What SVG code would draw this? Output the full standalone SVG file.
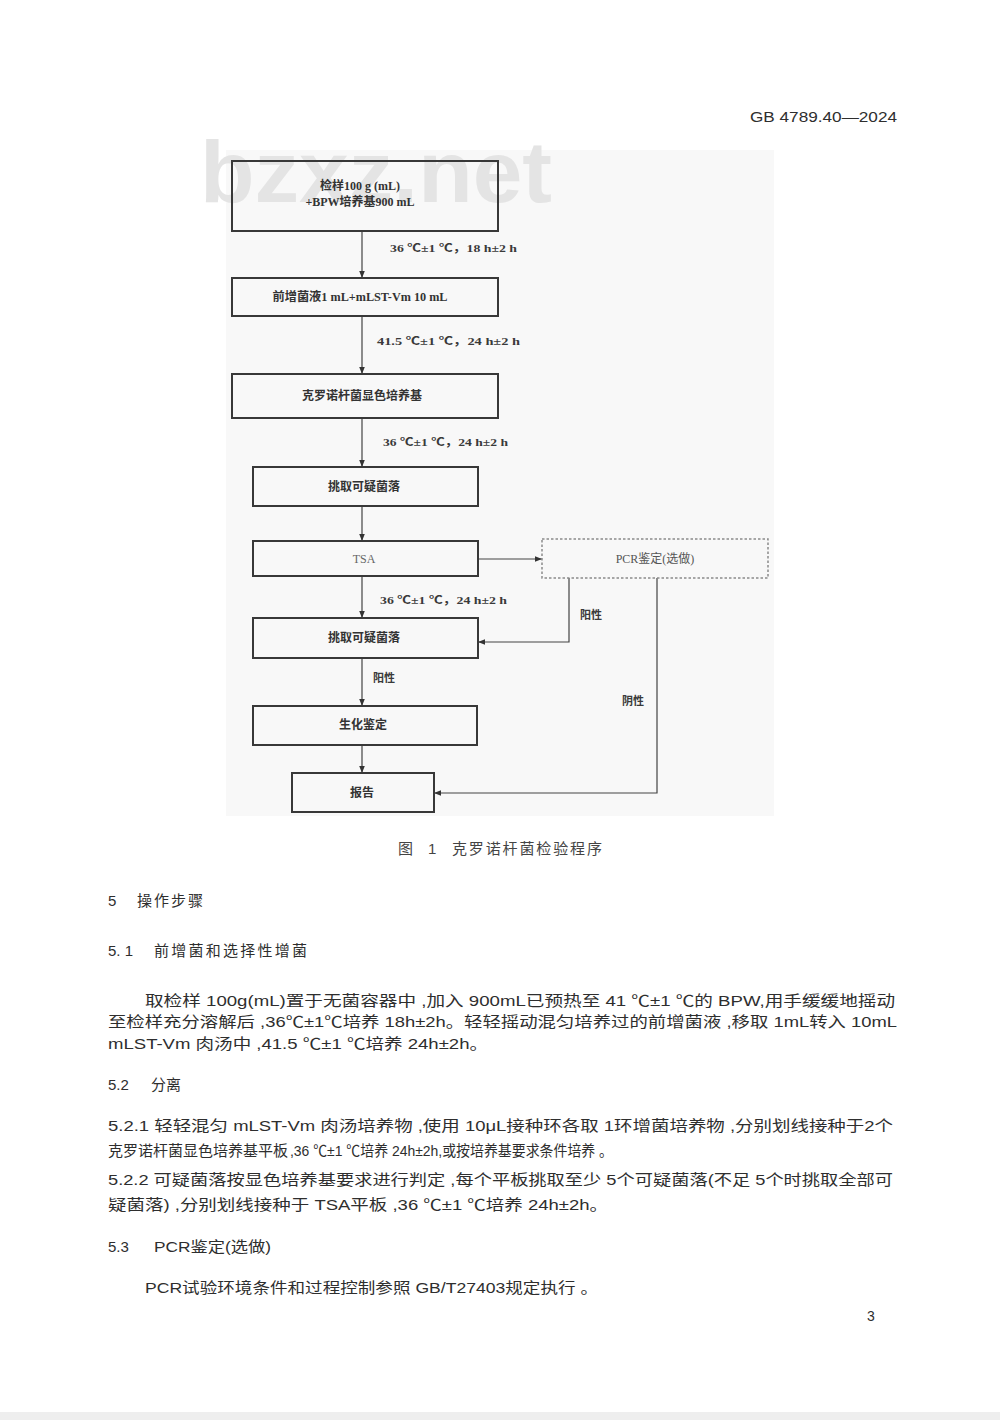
<svg xmlns="http://www.w3.org/2000/svg" width="1000" height="1420" viewBox="0 0 1000 1420">
<defs>
<marker id="arr" viewBox="0 0 10 10" refX="10" refY="5" markerWidth="7" markerHeight="7" markerUnits="userSpaceOnUse" orient="auto">
<path d="M0,1 L10,5 L0,9 z" fill="#333"/>
</marker>
<style>
.box{fill:none;stroke:#383838;stroke-width:2}
.dash{fill:none;stroke:#8a8a8a;stroke-width:1.5;stroke-dasharray:2.5 2}
.bt{font-family:"Liberation Serif","Noto Sans CJK SC",serif;font-size:12px;font-weight:bold;fill:#333;text-anchor:middle}
.bn{font-family:"Liberation Serif","Noto Sans CJK SC",serif;font-size:12px;font-weight:normal;fill:#666;text-anchor:middle}
.lt{font-family:"Liberation Serif","Noto Sans CJK SC",serif;font-size:11px;font-weight:bold;fill:#3a3a3a}
.ln{fill:none;stroke:#444;stroke-width:1.2}
.body{font-family:"Liberation Sans","Noto Sans CJK SC",sans-serif;font-size:15px;fill:#2e2e2e}
</style>
</defs>
<rect x="0" y="0" width="1000" height="1420" fill="#ffffff"/>
<rect x="0" y="1412" width="1000" height="8" fill="#eeeeee"/>
<text class="body" x="897" y="122" text-anchor="end" textLength="147" lengthAdjust="spacingAndGlyphs">GB  4789.40—2024</text>

<rect x="226" y="150" width="548" height="666" fill="#f8f8f8"/>
<text x="200" y="202" font-family="Liberation Sans, Arial, sans-serif" font-weight="bold" font-size="88" fill="#e4e4e4" textLength="352" lengthAdjust="spacingAndGlyphs">bzxz.net</text>

<g id="connectors">
<line class="ln" x1="362" y1="231" x2="362" y2="278" marker-end="url(#arr)"/>
<line class="ln" x1="362" y1="316" x2="362" y2="374" marker-end="url(#arr)"/>
<line class="ln" x1="362" y1="418" x2="362" y2="467" marker-end="url(#arr)"/>
<line class="ln" x1="362" y1="506" x2="362" y2="541" marker-end="url(#arr)"/>
<line class="ln" x1="362" y1="576" x2="362" y2="618" marker-end="url(#arr)"/>
<line class="ln" x1="362" y1="658" x2="362" y2="706" marker-end="url(#arr)"/>
<line class="ln" x1="362" y1="745" x2="362" y2="773" marker-end="url(#arr)"/>
<line class="ln" x1="478" y1="559" x2="542" y2="559" marker-end="url(#arr)"/>
<polyline class="ln" points="569,578 569,642 478,642" marker-end="url(#arr)"/>
<polyline class="ln" points="657,578 657,793 434,793" marker-end="url(#arr)"/>
<text class="lt" x="390" y="252" textLength="127" lengthAdjust="spacingAndGlyphs">36 ℃±1 ℃，18 h±2 h</text>
<text class="lt" x="377" y="345" textLength="143" lengthAdjust="spacingAndGlyphs">41.5 ℃±1 ℃，24 h±2 h</text>
<text class="lt" x="383" y="446" textLength="125" lengthAdjust="spacingAndGlyphs">36 ℃±1 ℃，24 h±2 h</text>
<text class="lt" x="380" y="604" textLength="127" lengthAdjust="spacingAndGlyphs">36 ℃±1 ℃，24 h±2 h</text>
<text class="lt" x="580" y="619">阳性</text>
<text class="lt" x="373" y="682">阳性</text>
<text class="lt" x="622" y="705">阴性</text>
</g>

<g id="n1"><rect class="box" x="232" y="161" width="266" height="70"/>
<text class="bt" x="360" y="190">检样100 g (mL)</text>
<text class="bt" x="360" y="206">+BPW培养基900 mL</text></g>
<g id="n2"><rect class="box" x="232" y="278" width="266" height="38"/>
<text class="bt" x="360" y="301" textLength="175" lengthAdjust="spacingAndGlyphs">前增菌液1 mL+mLST-Vm 10 mL</text></g>
<g id="n3"><rect class="box" x="232" y="374" width="266" height="44"/>
<text class="bt" x="362" y="400">克罗诺杆菌显色培养基</text></g>
<g id="n4"><rect class="box" x="253" y="467" width="225" height="39"/>
<text class="bt" x="364" y="491">挑取可疑菌落</text></g>
<g id="n5"><rect class="box" x="253" y="541" width="225" height="35"/>
<text class="bn" x="364" y="563">TSA</text></g>
<g id="n6"><rect class="dash" x="542" y="539" width="226" height="39"/>
<text class="bn" x="655" y="563" style="fill:#555">PCR鉴定(选做)</text></g>
<g id="n7"><rect class="box" x="253" y="618" width="225" height="40"/>
<text class="bt" x="364" y="642">挑取可疑菌落</text></g>
<g id="n8"><rect class="box" x="253" y="706" width="224" height="39"/>
<text class="bt" x="363" y="729">生化鉴定</text></g>
<g id="n9"><rect class="box" x="292" y="773" width="142" height="39"/>
<text class="bt" x="362" y="797">报告</text></g>

<text class="body" x="398" y="854" style="fill:#444">图</text>
<text class="body" x="428" y="854" style="fill:#444">1</text>
<text class="body" x="452" y="854" textLength="150" lengthAdjust="spacing" style="fill:#444">克罗诺杆菌检验程序</text>

<text class="body" x="108" y="906">5</text>
<text class="body" x="137" y="906" textLength="66" lengthAdjust="spacing">操作步骤</text>
<text class="body" x="108" y="956">5. 1</text>
<text class="body" x="154" y="956" textLength="153" lengthAdjust="spacing">前增菌和选择性增菌</text>
<text class="body" x="145" y="1006" textLength="750" lengthAdjust="spacingAndGlyphs">取检样 100g(mL)置于无菌容器中 ,加入 900mL已预热至 41 ℃±1 ℃的 BPW,用手缓缓地摇动</text>
<text class="body" x="108" y="1027" textLength="789" lengthAdjust="spacingAndGlyphs">至检样充分溶解后 ,36℃±1℃培养 18h±2h。轻轻摇动混匀培养过的前增菌液 ,移取 1mL转入 10mL</text>
<text class="body" x="108" y="1049" textLength="380" lengthAdjust="spacingAndGlyphs">mLST-Vm 肉汤中 ,41.5 ℃±1 ℃培养 24h±2h。</text>
<text class="body" x="108" y="1090">5.2</text>
<text class="body" x="151" y="1090">分离</text>
<text class="body" x="108" y="1131" textLength="785" lengthAdjust="spacingAndGlyphs">5.2.1  轻轻混匀 mLST-Vm 肉汤培养物 ,使用 10μL接种环各取 1环增菌培养物 ,分别划线接种于2个</text>
<text class="body" x="108" y="1156">克罗诺杆菌显色培养基平板</text>
<text class="body" x="290" y="1156" textLength="323" lengthAdjust="spacingAndGlyphs">,36 ℃±1 ℃培养 24h±2h,或按培养基要求条件培养 。</text>
<text class="body" x="108" y="1185" textLength="785" lengthAdjust="spacingAndGlyphs">5.2.2  可疑菌落按显色培养基要求进行判定 ,每个平板挑取至少 5个可疑菌落(不足 5个时挑取全部可</text>
<text class="body" x="108" y="1210" textLength="500" lengthAdjust="spacingAndGlyphs">疑菌落) ,分别划线接种于 TSA平板 ,36 ℃±1 ℃培养 24h±2h。</text>
<text class="body" x="108" y="1252">5.3</text>
<text class="body" x="154" y="1252" textLength="117" lengthAdjust="spacingAndGlyphs">PCR鉴定(选做)</text>
<text class="body" x="145" y="1293" textLength="453" lengthAdjust="spacingAndGlyphs">PCR试验环境条件和过程控制参照 GB/T27403规定执行 。</text>
<text class="body" x="867" y="1321" style="font-size:14px">3</text>
</svg>
